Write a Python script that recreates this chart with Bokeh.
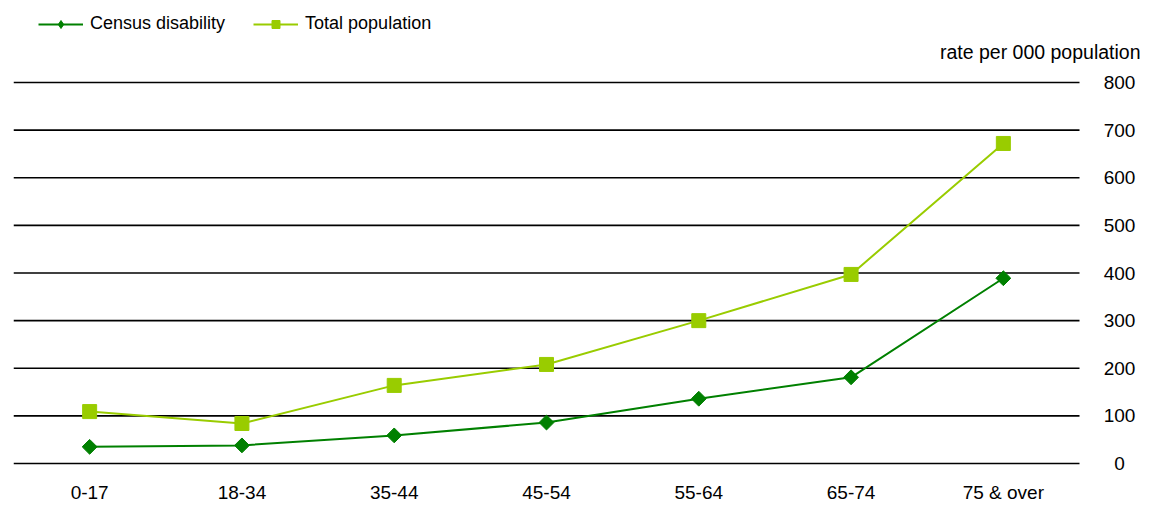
import math
from bokeh.plotting import figure
from bokeh.models import (Range1d, FixedTicker, Legend, LegendItem, ColumnDataSource)
from bokeh.embed import file_html
from bokeh.resources import INLINE

categories = ["0-17", "18-34", "35-44", "45-54", "55-64", "65-74", "75 & over"]
census_disability = [35, 38, 59, 86, 136, 181, 389]
total_population = [109, 84, 164, 208, 300, 397, 672]
y_ticks = [0, 100, 200, 300, 400, 500, 600, 700, 800]
y_unit_label = "rate per 000 population"

DARK = "#008000"
LIGHT = "#99CC00"
FONT = "Liberation Sans"

# plot geometry (pixels)
CAT_W = 1066 / 7          # width of one category band
FRAME_W = 1132            # frame reaches past the last category to hold the right-hand labels
GRID_H = 381              # height of the 0..800 band
TOP_H = 463               # from the top of the canvas down to the 0 line
BELOW_H = 14              # room below the 0 line inside the frame

n = len(categories)
xpos = [i + 0.5 for i in range(n)]
ymax = max(y_ticks)
per_px = ymax / GRID_H

p = figure(x_range=Range1d(0, FRAME_W / CAT_W),
           y_range=Range1d(-BELOW_H * per_px, TOP_H * per_px),
           frame_width=FRAME_W, frame_height=TOP_H + BELOW_H,
           min_border_left=13, min_border_right=0, min_border_top=0, min_border_bottom=20,
           output_backend="svg", toolbar_location=None, y_axis_location=None)
p.outline_line_color = None
p.background_fill_color = "white"
p.border_fill_color = "white"
p.xgrid.grid_line_color = None
p.ygrid.grid_line_color = None

# x axis with category labels
p.xaxis.ticker = FixedTicker(ticks=xpos)
p.xaxis.major_label_overrides = {x: c for x, c in zip(xpos, categories)}
p.xaxis.axis_line_color = None
p.xaxis.major_tick_line_color = None
p.xaxis.minor_tick_line_color = None
p.xaxis.major_tick_out = 0
p.xaxis.major_label_text_font = FONT
p.xaxis.major_label_text_font_size = "19px"
p.xaxis.major_label_text_color = "#000000"
p.xaxis.major_label_standoff = 4

# horizontal gridlines across the category area
p.segment(x0=[0] * len(y_ticks), x1=[n] * len(y_ticks), y0=y_ticks, y1=y_ticks,
          line_color="#000000", line_width=1.6)

# right-hand value labels and unit label
p.text(x=[n] * len(y_ticks), y=y_ticks, text=[str(t) for t in y_ticks],
       x_offset=40, text_align="center", text_baseline="middle",
       text_font={"value": FONT}, text_font_size="19px", text_color="#000000")
p.text(x=[n], y=[ymax], text=[y_unit_label], x_offset=61, y_offset=-31,
       text_align="right", text_baseline="middle",
       text_font={"value": FONT}, text_font_size="19.5px", text_color="#000000")

src = ColumnDataSource(dict(x=xpos, cd=census_disability, tp=total_population))

p.line("x", "tp", source=src, line_color=LIGHT, line_width=2)
p.scatter("x", "tp", source=src, marker="square", size=14, fill_color=LIGHT, line_color=LIGHT)
p.line("x", "cd", source=src, line_color=DARK, line_width=2)
p.scatter("x", "cd", source=src, marker="square", angle=math.pi / 4, size=10.5,
          fill_color=DARK, line_color=DARK)

# legend-only (hidden) renderers with smaller markers
l1 = p.line("x", "cd", source=src, line_color=DARK, line_width=2, visible=False)
m1 = p.scatter("x", "cd", source=src, marker="diamond", size=13, fill_color=DARK,
               line_color=DARK, visible=False)
l2 = p.line("x", "tp", source=src, line_color=LIGHT, line_width=2, visible=False)
m2 = p.scatter("x", "tp", source=src, marker="square", size=11, fill_color=LIGHT,
               line_color=LIGHT, visible=False)

legend = Legend(items=[LegendItem(label="Census disability", renderers=[l1, m1]),
                       LegendItem(label="Total population", renderers=[l2, m2])],
                location=(25, 429 + BELOW_H), orientation="horizontal",
                glyph_width=45, glyph_height=20, label_height=20, label_standoff=7,
                spacing=28, padding=0, margin=0,
                border_line_color=None, background_fill_alpha=0,
                inactive_fill_alpha=0,
                label_text_font=FONT, label_text_font_size="18px", label_text_color="#000000")
p.add_layout(legend, "center")

open("out.html", "w").write(file_html(p, INLINE))
